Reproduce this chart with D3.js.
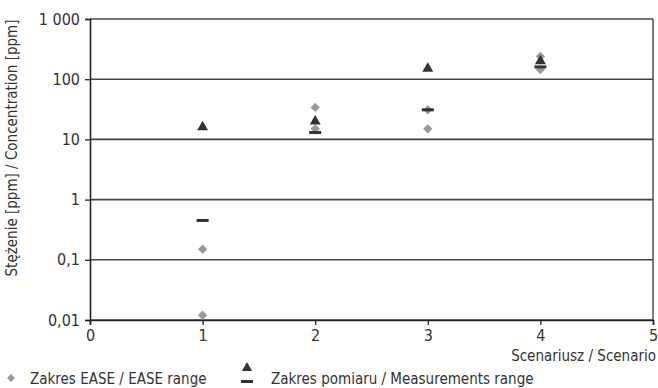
<!DOCTYPE html>
<html>
<meta charset="utf-8">
<style>
body { margin: 0; background: #fff; }
text { font-family: "Liberation Sans Narrow", "DejaVu Sans Condensed", sans-serif; fill: #333; }
</style>
<head>
  <script src="https://d3js.org/d3.v7.min.js"></script>
</head>
<body>
<script>
// scenario numbers and values
var easeX = [1, 1, 2, 2, 3, 3, 4, 4];
var easeY = [0.15, 0.012, 34, 15, 31, 15, 240, 145];

var measX = [1, 2, 3, 4];
var measMin = [0.45, 13, 31, 160];
var measMax = [16, 20, 150, 200];

var yTicks = [0.01, 0.1, 1, 10, 100, 1000];
var yTickLabels = ["0,01", "0,1", "1", "10", "100", "1 000"];
var xTicks = [0, 1, 2, 3, 4, 5];

var width = 658, height = 388;

var x = d3.scaleLinear().domain([0, 5]).range([90, 653]);
var y = d3.scaleLog().domain([0.01, 1000]).range([320, 19]);

var svg = d3.select("body").append("svg")
    .attr("width", width)
    .attr("height", height);

// horizontal grid lines
svg.append("g")
    .selectAll("line")
    .data(yTicks)
  .enter().append("line")
    .attr("x1", x(0)).attr("x2", x(5))
    .attr("y1", function(d) { return y(d); })
    .attr("y2", function(d) { return y(d); })
    .attr("stroke", "#444")
    .attr("stroke-width", 1.6);

// right border
svg.append("line")
    .attr("x1", x(5)).attr("x2", x(5))
    .attr("y1", y(1000)).attr("y2", y(0.01))
    .attr("stroke", "#444").attr("stroke-width", 1.4);

// y axis
var yAxis = svg.append("g")
    .attr("transform", "translate(" + x(0) + ",0)")
    .call(d3.axisLeft(y)
      .tickValues(yTicks)
      .tickSize(5)
      .tickPadding(5)
      .tickFormat(function(d, i) { return yTickLabels[i]; }));

// x axis
var xAxis = svg.append("g")
    .attr("transform", "translate(0," + y(0.01) + ")")
    .call(d3.axisBottom(x)
      .tickValues(xTicks)
      .tickSize(5)
      .tickPadding(5)
      .tickFormat(d3.format("d")));

[yAxis, xAxis].forEach(function(a) {
  a.select(".domain").attr("stroke", "#222").attr("stroke-width", 1.6);
  a.selectAll(".tick line").attr("stroke", "#222").attr("stroke-width", 1.3);
  a.selectAll(".tick text").style("font-size", "16px").attr("fill", "#333");
});

svg.append("text")
    .attr("transform", "translate(17,148) rotate(-90)")
    .attr("text-anchor", "middle")
    .style("font-size", "15px")
    .text("Stężenie [ppm] / Concentration [ppm]");

svg.append("text")
    .attr("x", 656)
    .attr("y", 361)
    .attr("text-anchor", "end")
    .style("font-size", "15px")
    .text("Scenariusz / Scenario");

var diamond = d3.symbol().type(d3.symbolDiamond2).size(55);
var triangle = d3.symbol().type(d3.symbolTriangle).size(52);

// EASE range diamonds
svg.append("g")
    .selectAll("path")
    .data(easeY)
  .enter().append("path")
    .attr("d", diamond)
    .attr("transform", function(d, i) { return "translate(" + x(easeX[i]) + "," + y(d) + ")"; })
    .attr("fill", "#999");

// measurement range: dash = min, triangle = max
svg.append("g")
    .selectAll("rect")
    .data(measMin)
  .enter().append("rect")
    .attr("x", function(d, i) { return x(measX[i]) - 6; })
    .attr("y", function(d) { return y(d) - 1.5; })
    .attr("width", 12)
    .attr("height", 3)
    .attr("fill", "#333");

svg.append("g")
    .selectAll("path")
    .data(measMax)
  .enter().append("path")
    .attr("d", triangle)
    .attr("transform", function(d, i) { return "translate(" + x(measX[i]) + "," + y(d) + ")"; })
    .attr("fill", "#333");

// legend
var leg = svg.append("g");
leg.append("path")
    .attr("d", d3.symbol().type(d3.symbolDiamond2).size(40))
    .attr("transform", "translate(11,378)")
    .attr("fill", "#999");
leg.append("text")
    .attr("x", 30).attr("y", 384)
    .style("font-size", "15px")
    .text("Zakres EASE / EASE range");
leg.append("path")
    .attr("d", d3.symbol().type(d3.symbolTriangle).size(45))
    .attr("transform", "translate(247,368)")
    .attr("fill", "#333");
leg.append("rect")
    .attr("x", 241).attr("y", 380)
    .attr("width", 12).attr("height", 3)
    .attr("fill", "#333");
leg.append("text")
    .attr("x", 271).attr("y", 384)
    .style("font-size", "15px")
    .text("Zakres pomiaru / Measurements range");
</script>
</body>
</html>
